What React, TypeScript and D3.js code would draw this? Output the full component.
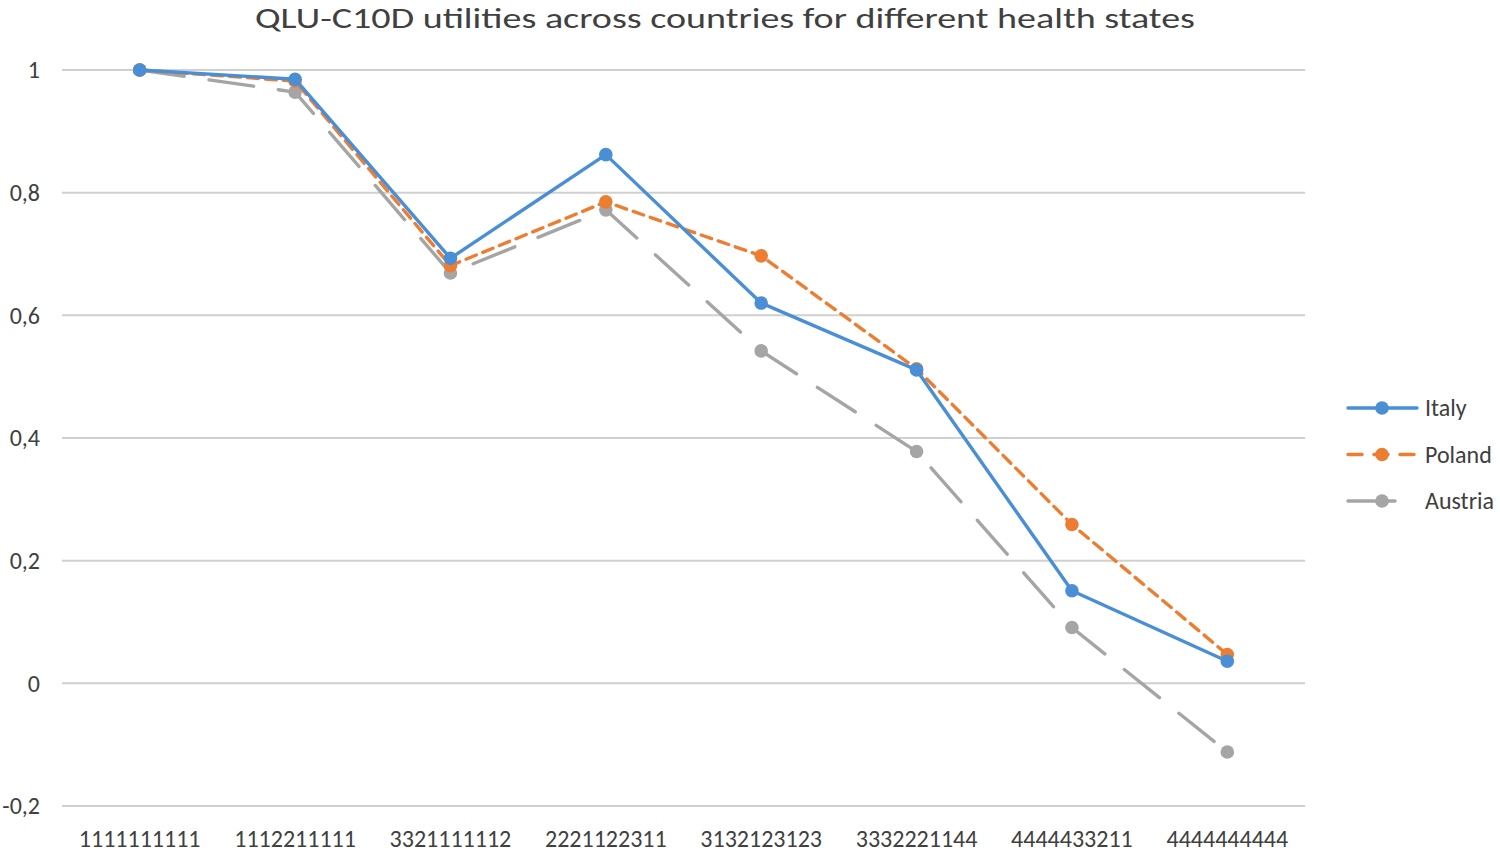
import React from "react";
import * as d3 from "d3";

const categories = ["1111111111", "1112211111", "3321111112", "2221122311", "3132123123", "3332221144", "4444433211", "4444444444"];
const italy = [1, 0.985, 0.693, 0.862, 0.62, 0.511, 0.151, 0.036];
const poland = [1, 0.982, 0.681, 0.785, 0.697, 0.513, 0.259, 0.047];
const austria = [1, 0.964, 0.669, 0.772, 0.542, 0.378, 0.091, -0.112];
const yTicks = [-0.2, 0, 0.2, 0.4, 0.6, 0.8, 1];
const seriesNames = ["Italy", "Poland", "Austria"];

const W = 1500, H = 857;
const left = 62, right = 1305, top = 70, bottom = 806;

export default function App() {
  const x = d3.scaleBand<string>().domain(categories).range([left, right]);
  const y = d3.scaleLinear().domain([-0.2, 1]).range([bottom, top]);
  const fmt = (v: number) => (Math.abs(v) < 1e-9 ? "0" : String(+v.toFixed(1)).replace(".", ","));
  const series = [
    { name: seriesNames[0], data: italy, color: "#4a8fd6", dash: "none" },
    { name: seriesNames[1], data: poland, color: "#ed7d31", dash: "11 7" },
    { name: seriesNames[2], data: austria, color: "#a5a5a5", dash: "45 25" },
  ];
  const line = d3.line<number>().x((_, i) => (x(categories[i]) as number) + x.bandwidth() / 2).y((d) => y(d));
  const font = "Calibri, Carlito, Lato, 'Open Sans', sans-serif";
  return (
    <svg width={W} height={H} style={{ position: "absolute", left: 0, top: 0, background: "#fff" }} fontFamily={font}>
      <text x={725} y={28} textAnchor="middle" fontSize={29} fill="#404040" textLength={940} lengthAdjust="spacingAndGlyphs">QLU-C10D utilities across countries for different health states</text>
      {yTicks.map((t) => (
        <g key={t}>
          <line x1={left} x2={right} y1={y(t)} y2={y(t)} stroke="#d0d0d0" strokeWidth={2} />
          <text x={40} y={y(t)} dy="0.35em" textAnchor="end" fontSize={24} fill="#404040">{fmt(t)}</text>
        </g>
      ))}
      {categories.map((c) => (
        <text key={c} x={(x(c) as number) + x.bandwidth() / 2} y={847} textAnchor="middle" fontSize={24} fill="#404040">{c}</text>
      ))}
      {[series[2], series[1], series[0]].map((s) => (
        <g key={s.name}>
          <path d={line(s.data) || ""} fill="none" stroke={s.color} strokeWidth={3.4} strokeDasharray={s.dash} strokeLinecap="round" strokeLinejoin="round" />
          {s.data.map((v, i) => (
            <circle key={i} cx={(x(categories[i]) as number) + x.bandwidth() / 2} cy={y(v)} r={6.8} fill={s.color} />
          ))}
        </g>
      ))}
      {series.map((s, i) => {
        const ly = 408 + i * 46.5;
        return (
          <g key={s.name}>
            {s.name === "Poland" ? (
              <>
                <line x1={1348} x2={1362} y1={ly} y2={ly} stroke={s.color} strokeWidth={3.4} strokeLinecap="round" />
                <line x1={1400} x2={1414} y1={ly} y2={ly} stroke={s.color} strokeWidth={3.4} strokeLinecap="round" />
                <line x1={1374} x2={1388} y1={ly} y2={ly} stroke={s.color} strokeWidth={3.4} strokeLinecap="round" />
              </>
            ) : s.name === "Austria" ? (
              <line x1={1348} x2={1395} y1={ly} y2={ly} stroke={s.color} strokeWidth={3.4} strokeLinecap="round" />
            ) : (
              <line x1={1348} x2={1417} y1={ly} y2={ly} stroke={s.color} strokeWidth={3.4} strokeLinecap="round" />
            )}
            <circle cx={1382} cy={ly} r={6.8} fill={s.color} />
            <text x={1425} y={ly} dy="0.35em" fontSize={24} fill="#404040">{s.name}</text>
          </g>
        );
      })}
    </svg>
  );
}
